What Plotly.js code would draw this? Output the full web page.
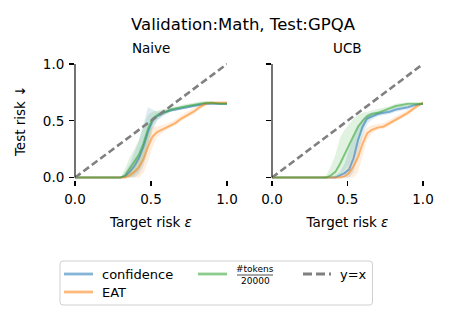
<!DOCTYPE html>
<html>
<head>
<meta charset="utf-8">
<script src="https://cdn.plot.ly/plotly-3.0.1.min.js"></script>
<style>
  body { margin: 0; background: #fff; }
  #chart { width: 450px; height: 320px; }
</style>
</head>
<body>
<div id="chart"></div>
<script>
// target risk grid (shared by both panels)
const risk = [0, 0.30, 0.33, 0.36, 0.39, 0.42, 0.45, 0.48, 0.51, 0.54, 0.57, 0.60, 0.63, 0.66, 0.70, 0.74, 0.78, 0.82, 0.86, 0.90, 0.95, 1.0];

// Naive panel
const naiveConf   = [0, 0, 0.01, 0.05, 0.10, 0.17, 0.27, 0.40, 0.50, 0.54, 0.56, 0.58, 0.59, 0.60, 0.61, 0.62, 0.63, 0.64, 0.65, 0.65, 0.65, 0.65];
const naiveConfLo = [0, 0, 0, 0, 0, 0.03, 0.10, 0.25, 0.42, 0.50, 0.53, 0.56, 0.58, 0.59, 0.60, 0.61, 0.62, 0.63, 0.64, 0.64, 0.64, 0.64];
const naiveConfHi = [0, 0, 0.05, 0.12, 0.22, 0.32, 0.47, 0.62, 0.60, 0.58, 0.59, 0.60, 0.61, 0.62, 0.63, 0.64, 0.65, 0.66, 0.66, 0.66, 0.66, 0.66];
const naiveEat    = [0, 0, 0, 0.02, 0.05, 0.09, 0.16, 0.27, 0.36, 0.40, 0.42, 0.44, 0.46, 0.48, 0.52, 0.55, 0.58, 0.62, 0.65, 0.66, 0.66, 0.66];
const naiveEatLo  = [0, 0, 0, 0, 0, 0, 0.04, 0.14, 0.27, 0.36, 0.39, 0.42, 0.44, 0.46, 0.50, 0.53, 0.56, 0.60, 0.63, 0.65, 0.65, 0.65];
const naiveEatHi  = [0, 0, 0.02, 0.08, 0.14, 0.20, 0.28, 0.39, 0.45, 0.45, 0.46, 0.47, 0.49, 0.51, 0.55, 0.58, 0.61, 0.65, 0.67, 0.67, 0.67, 0.67];
const naiveTok    = [0, 0, 0.02, 0.08, 0.13, 0.20, 0.30, 0.43, 0.52, 0.55, 0.57, 0.58, 0.60, 0.61, 0.62, 0.63, 0.64, 0.65, 0.66, 0.66, 0.65, 0.65];
const naiveTokLo  = [0, 0, 0, 0, 0.02, 0.06, 0.15, 0.30, 0.45, 0.51, 0.54, 0.56, 0.58, 0.60, 0.61, 0.62, 0.63, 0.64, 0.65, 0.65, 0.64, 0.64];
const naiveTokHi  = [0, 0, 0.08, 0.18, 0.25, 0.33, 0.45, 0.55, 0.58, 0.59, 0.60, 0.61, 0.62, 0.63, 0.64, 0.65, 0.66, 0.67, 0.67, 0.67, 0.66, 0.66];

// UCB panel
const ucbConf   = [0, 0, 0, 0, 0, 0, 0.02, 0.04, 0.07, 0.17, 0.33, 0.45, 0.52, 0.54, 0.56, 0.57, 0.58, 0.60, 0.61, 0.62, 0.64, 0.65];
const ucbConfLo = [0, 0, 0, 0, 0, 0, 0, 0, 0, 0.05, 0.20, 0.36, 0.47, 0.51, 0.54, 0.55, 0.56, 0.58, 0.59, 0.60, 0.63, 0.64];
const ucbConfHi = [0, 0, 0, 0, 0, 0.02, 0.05, 0.12, 0.25, 0.35, 0.45, 0.52, 0.56, 0.57, 0.58, 0.59, 0.60, 0.62, 0.63, 0.64, 0.65, 0.66];
const ucbEat    = [0, 0, 0, 0, 0, 0, 0, 0.01, 0.04, 0.10, 0.18, 0.30, 0.39, 0.42, 0.44, 0.45, 0.48, 0.51, 0.54, 0.57, 0.62, 0.66];
const ucbEatLo  = [0, 0, 0, 0, 0, 0, 0, 0, 0, 0, 0.05, 0.20, 0.33, 0.39, 0.42, 0.43, 0.46, 0.49, 0.52, 0.55, 0.60, 0.65];
const ucbEatHi  = [0, 0, 0, 0, 0, 0, 0.02, 0.05, 0.12, 0.22, 0.30, 0.38, 0.44, 0.46, 0.47, 0.48, 0.51, 0.54, 0.57, 0.60, 0.64, 0.67];
const ucbTok    = [0, 0, 0, 0, 0.02, 0.05, 0.12, 0.20, 0.28, 0.37, 0.45, 0.50, 0.54, 0.56, 0.57, 0.59, 0.61, 0.63, 0.64, 0.65, 0.65, 0.65];
const ucbTokLo  = [0, 0, 0, 0, 0, 0, 0.02, 0.06, 0.12, 0.22, 0.33, 0.42, 0.50, 0.53, 0.55, 0.57, 0.59, 0.61, 0.62, 0.63, 0.64, 0.64];
const ucbTokHi  = [0, 0, 0, 0.02, 0.10, 0.20, 0.35, 0.42, 0.47, 0.52, 0.55, 0.57, 0.58, 0.59, 0.60, 0.61, 0.63, 0.65, 0.66, 0.66, 0.66, 0.66];

const diag = [0, 1];
const ticks = [0, 0.5, 1];
const tickLabels = ['0.0', '0.5', '1.0'];
const legendLabels = ['confidence', 'EAT', '#tokens', '20000', 'y=x'];

const colors = { conf: '31,119,180', eat: '255,127,14', tok: '44,160,44' };
const FONT = 'DejaVu Sans, sans-serif';

function band(lo, hi, rgb, xa, ya) {
  return [
    { x: risk, y: lo, xaxis: xa, yaxis: ya, mode: 'lines', line: { width: 0 }, showlegend: false, hoverinfo: 'skip' },
    { x: risk, y: hi, xaxis: xa, yaxis: ya, mode: 'lines', line: { width: 0 }, fill: 'tonexty',
      fillcolor: 'rgba(' + rgb + ',0.14)', showlegend: false, hoverinfo: 'skip' }
  ];
}
function curve(y, rgb, xa, ya) {
  return { x: risk, y: y, xaxis: xa, yaxis: ya, mode: 'lines',
    line: { color: 'rgba(' + rgb + ',0.55)', width: 2 }, showlegend: false };
}
function diagonal(xa, ya) {
  return { x: diag, y: diag, xaxis: xa, yaxis: ya, mode: 'lines',
    line: { color: '#808080', width: 2.6, dash: '7px,3.5px' }, showlegend: false };
}

var data = [].concat(
  band(naiveConfLo, naiveConfHi, colors.conf, 'x', 'y'),
  band(naiveEatLo, naiveEatHi, colors.eat, 'x', 'y'),
  band(naiveTokLo, naiveTokHi, colors.tok, 'x', 'y'),
  [curve(naiveConf, colors.conf, 'x', 'y'), curve(naiveEat, colors.eat, 'x', 'y'), curve(naiveTok, colors.tok, 'x', 'y'), diagonal('x', 'y')],
  band(ucbConfLo, ucbConfHi, colors.conf, 'x2', 'y2'),
  band(ucbEatLo, ucbEatHi, colors.eat, 'x2', 'y2'),
  band(ucbTokLo, ucbTokHi, colors.tok, 'x2', 'y2'),
  [curve(ucbConf, colors.conf, 'x2', 'y2'), curve(ucbEat, colors.eat, 'x2', 'y2'), curve(ucbTok, colors.tok, 'x2', 'y2'), diagonal('x2', 'y2')]
);

const W = 450, H = 320;
const yDom = [0.438, 0.807];
const yRange = [-0.02, 1.02];
const px = v => v / W;
const py = v => 1 - v / H;
// paper y for a data value on the y axes
const yPaper = v => yDom[0] + (v - yRange[0]) / (yRange[1] - yRange[0]) * (yDom[1] - yDom[0]);

var xBase = {
  range: [0, 1], tickvals: ticks, ticktext: tickLabels, ticks: 'outside', ticklen: 5, tickwidth: 1.1,
  tickcolor: '#000', showline: false, showgrid: false, zeroline: false, fixedrange: true,
  ticklabelstandoff: 2,
  tickfont: { size: 13.5, color: '#000' },
  title: { text: 'Target risk <i>ε</i>', font: { size: 13.5, color: '#000' }, standoff: 11 }
};
var yBase = {
  domain: yDom, range: yRange, tickvals: ticks, ticktext: tickLabels, ticks: 'outside', ticklen: 5, tickwidth: 1.1,
  tickcolor: '#000', showline: false, showgrid: false, zeroline: false, fixedrange: true,
  ticklabelstandoff: 2,
  tickfont: { size: 13.5, color: '#000' }
};

var layout = {
  width: W, height: H,
  margin: { l: 0, r: 0, t: 0, b: 0 },
  paper_bgcolor: '#fff', plot_bgcolor: 'rgba(0,0,0,0)',
  font: { family: FONT, color: '#000' },
  showlegend: false,
  title: { text: 'Validation:Math, Test:GPQA', font: { size: 16.5, color: '#000' },
    x: px(243), xanchor: 'center', y: py(24), yanchor: 'middle' },
  xaxis: Object.assign({}, xBase, { domain: [px(75), px(227)], anchor: 'y' }),
  xaxis2: Object.assign({}, xBase, { domain: [px(272), px(423)], anchor: 'y2' }),
  yaxis: Object.assign({}, yBase, { anchor: 'x',
    title: { text: 'Test risk ↓', font: { size: 13.5, color: '#000' }, standoff: 14 } }),
  yaxis2: Object.assign({}, yBase, { anchor: 'x2', showticklabels: false }),
  annotations: [],
  shapes: []
};

// panel titles
layout.annotations.push(
  { text: 'Naive', x: px(151), y: py(47.5), xref: 'paper', yref: 'paper', showarrow: false,
    xanchor: 'center', yanchor: 'middle', font: { size: 13.5 } },
  { text: 'UCB', x: px(347), y: py(47.5), xref: 'paper', yref: 'paper', showarrow: false,
    xanchor: 'center', yanchor: 'middle', font: { size: 13.5 } }
);

// left spines, trimmed to 0..1
[75, 272].forEach(function (xp) {
  layout.shapes.push({ type: 'line', xref: 'paper', yref: 'paper', x0: px(xp), x1: px(xp),
    y0: yPaper(0), y1: yPaper(1), line: { color: '#000', width: 1.1 } });
});

// legend box (rounded)
function roundRect(x0, y0, x1, y1, r) {
  const X = v => px(v).toFixed(5), Y = v => py(v).toFixed(5);
  return 'M' + X(x0 + r) + ',' + Y(y0) + ' L' + X(x1 - r) + ',' + Y(y0) +
    ' Q' + X(x1) + ',' + Y(y0) + ' ' + X(x1) + ',' + Y(y0 + r) +
    ' L' + X(x1) + ',' + Y(y1 - r) + ' Q' + X(x1) + ',' + Y(y1) + ' ' + X(x1 - r) + ',' + Y(y1) +
    ' L' + X(x0 + r) + ',' + Y(y1) + ' Q' + X(x0) + ',' + Y(y1) + ' ' + X(x0) + ',' + Y(y1 - r) +
    ' L' + X(x0) + ',' + Y(y0 + r) + ' Q' + X(x0) + ',' + Y(y0) + ' ' + X(x0 + r) + ',' + Y(y0) + ' Z';
}
layout.shapes.push({ type: 'path', xref: 'paper', yref: 'paper', path: roundRect(60, 261, 372.5, 305, 3),
  line: { color: '#d0d0d0', width: 1 }, fillcolor: 'rgba(255,255,255,0.8)' });

function legLine(x0, x1, y, color, dash) {
  layout.shapes.push({ type: 'line', xref: 'paper', yref: 'paper', x0: px(x0), x1: px(x1), y0: py(y), y1: py(y),
    line: { color: color, width: 2.8, dash: dash || 'solid' } });
}
function legText(x, y, text, size, anchor) {
  layout.annotations.push({ text: text, x: px(x), y: py(y), xref: 'paper', yref: 'paper', showarrow: false,
    xanchor: anchor || 'left', yanchor: 'middle', font: { size: size || 13 } });
}
legLine(64, 93, 274, 'rgba(' + colors.conf + ',0.55)');
legText(100, 274, legendLabels[0]);
legLine(64, 93, 292, 'rgba(' + colors.eat + ',0.55)');
legText(100, 292, legendLabels[1]);
legLine(198, 227, 274, 'rgba(' + colors.tok + ',0.55)');
legText(255, 269, legendLabels[2], 9, 'center');
legText(255, 281, legendLabels[3], 9, 'center');
layout.shapes.push({ type: 'line', xref: 'paper', yref: 'paper', x0: px(237), x1: px(273), y0: py(275), y1: py(275),
  line: { color: '#000', width: 0.7 } });
legLine(303, 331, 274, '#808080', '9px,4px');
legText(338, 274, legendLabels[4]);

Plotly.newPlot('chart', data, layout, { displayModeBar: false, staticPlot: true });
</script>
</body>
</html>
